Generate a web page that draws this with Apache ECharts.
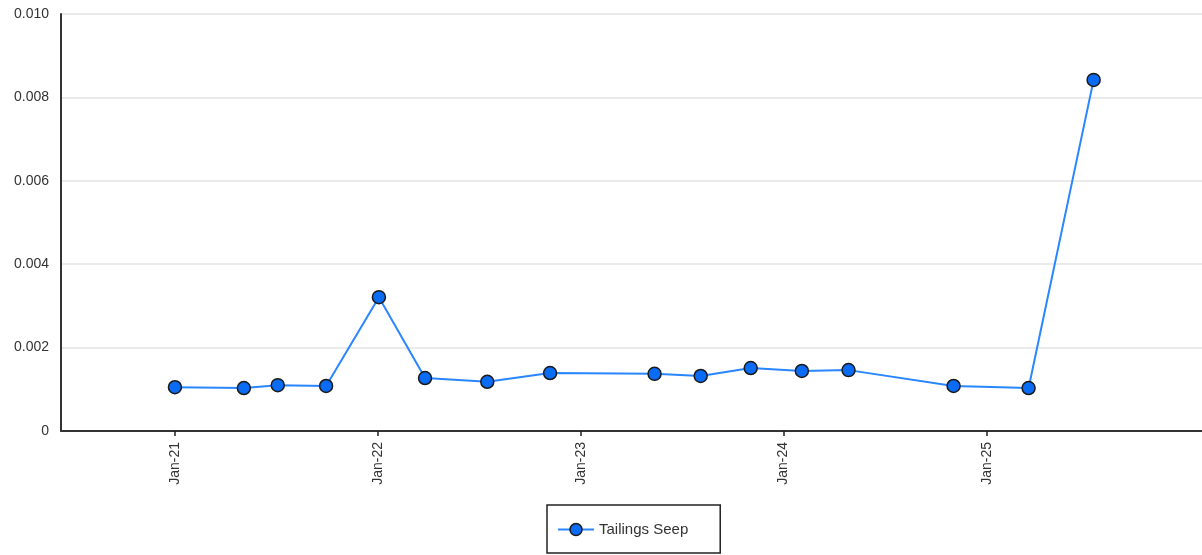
<!DOCTYPE html>
<html>
<head>
<meta charset="utf-8">
<script src="https://cdn.jsdelivr.net/npm/echarts@6/dist/echarts.min.js"></script>
<style>
  html, body { margin: 0; padding: 0; background: #fff; }
  #chart { width: 1202px; height: 555px; }
</style>
</head>
<body>
<div id="chart"></div>
<script>
// Sample dates and measured concentrations
const sampleDates = [
  '2021-01-01', '2021-05-05', '2021-07-05', '2021-09-30', '2022-01-03',
  '2022-03-27', '2022-07-17', '2022-11-07', '2023-05-14', '2023-08-05',
  '2023-11-03', '2024-02-03', '2024-04-27', '2024-11-02', '2025-03-17',
  '2025-07-12'
];
const tailingsSeep = [
  0.00105, 0.00103, 0.00110, 0.00108, 0.00321,
  0.00127, 0.00118, 0.00139, 0.00137, 0.00132,
  0.00151, 0.00144, 0.00146, 0.00108, 0.00103,
  0.00842
];
const tickDates = ['2021-01-01', '2022-01-01', '2023-01-01', '2024-01-01', '2025-01-01'];
const seriesName = 'Tailings Seep';

const monthNames = ['Jan','Feb','Mar','Apr','May','Jun','Jul','Aug','Sep','Oct','Nov','Dec'];
const ts = s => new Date(s + 'T00:00:00Z').getTime();
const tickValues = tickDates.map(ts);

const chart = echarts.init(document.getElementById('chart'), null, { renderer: 'canvas' });
chart.setOption({
  animation: false,
  textStyle: { fontFamily: 'Liberation Sans, Arial, sans-serif' },
  grid: { left: 61, right: 0, top: 14, bottom: 124, containLabel: false },
  xAxis: {
    // dates are plotted as millisecond timestamps on a linear scale
    type: 'value',
    min: ts('2020-06-10'),
    max: ts('2026-01-23'),
    axisLine: { show: true, lineStyle: { color: '#333', width: 2 } },
    axisTick: { show: true, customValues: tickValues, length: 5, lineStyle: { color: '#222', width: 1.5 } },
    axisLabel: {
      customValues: tickValues,
      rotate: 90,
      color: '#333',
      fontSize: 14,
      margin: 11,
      formatter: v => {
        const d = new Date(v);
        return monthNames[d.getUTCMonth()] + '-' + String(d.getUTCFullYear()).slice(2);
      }
    },
    splitLine: { show: false }
  },
  yAxis: {
    type: 'value',
    min: 0,
    max: 0.010,
    interval: 0.002,
    axisLine: { show: true, lineStyle: { color: '#333', width: 2 } },
    axisTick: { show: false },
    axisLabel: {
      color: '#333',
      fontSize: 14,
      margin: 12,
      formatter: v => v === 0 ? '0' : v.toFixed(3)
    },
    splitLine: { show: true, lineStyle: { color: '#e3e3e3', width: 1.5 } }
  },
  legend: {
    left: 547,
    top: 505,
    data: [seriesName],
    borderColor: '#222',
    borderWidth: 1.5,
    padding: [17, 32, 16, 10],
    itemWidth: 36,
    itemHeight: 15,
    itemGap: 10,
    textStyle: { color: '#333', fontSize: 15 },
    itemStyle: { borderWidth: 1.5 }
  },
  series: [{
    name: seriesName,
    type: 'line',
    data: sampleDates.map((d, i) => [ts(d), tailingsSeep[i]]),
    symbol: 'circle',
    symbolSize: 13,
    lineStyle: { color: '#2a86ff', width: 2 },
    itemStyle: { color: '#0a6cf5', borderColor: '#1a1a1a', borderWidth: 1.5 }
  }]
});
</script>
</body>
</html>
